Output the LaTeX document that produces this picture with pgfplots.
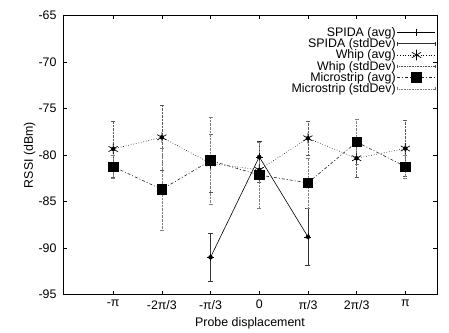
\documentclass[border=0pt]{standalone}
\usepackage{pgfplots}
\pgfplotsset{compat=1.18}
\usepackage{fontspec}
\setmainfont{Liberation Sans}
\begin{document}
\begin{tikzpicture}[font=\fontsize{12.4bp}{14bp}\selectfont]
\begin{axis}[
  scale only axis,
  width=374bp, height=279bp,
  xmin=-1.03, xmax=6.65,
  ymin=-95, ymax=-65,
  xtick={0,1,2,3,4,5,6},
  xticklabels={-π,-2π/3,-π/3,0,π/3,2π/3,π},
  ytick={-95,-90,-85,-80,-75,-70,-65},
  /pgf/number format/assume math mode=true,
  tick align=inside,
  major tick length=4bp,
  tick style={black, line width=0.6bp},
  axis line style={line width=0.8bp},
  xlabel={Probe displacement},
  ylabel={RSSI (dBm)},
  xlabel style={at={(axis description cs:0.5,0)}, anchor=north, yshift=-19bp},
  ylabel style={at={(axis description cs:0,0.5)}, anchor=south, yshift=24bp},
  xticklabel style={yshift=-2bp},
  yticklabel style={xshift=-3bp},
  clip=false,
  legend cell align=right,
  legend plot pos=right,
  legend style={draw=none, fill=none, at={(rel axis cs:1,1)}, anchor=north east,
    xshift=-1bp, yshift=-10bp, inner sep=0pt, row sep=-2.2bp,
    nodes={inner sep=1.5bp}},
  legend image code/.code={\draw[mark repeat=2,mark phase=2,#1] plot coordinates {(0bp,0bp) (19bp,0bp) (38bp,0bp)};},
]
% SPIDA
\addplot[black, solid, line width=0.6bp, mark=+, mark size=3.5bp, mark options={solid}]
  coordinates {(2,-91.0) (3,-80.2) (4,-88.8)};
\addlegendentry{SPIDA (avg)}
\addlegendimage{legend image code/.code={
  \draw[black!80, line width=0.6bp] (0bp,0bp)--(38bp,0bp);
  \draw[black!80, line width=0.6bp] (0bp,-2bp)--(0bp,2bp);
  \draw[black!80, line width=0.6bp] (38bp,-2bp)--(38bp,2bp);}}
\addlegendentry{SPIDA (stdDev)}
\addplot[forget plot, only marks, mark=none,
  error bars/.cd, y dir=both, y explicit,
  error bar style={black!80, solid, line width=0.6bp},
  error mark options={black!80, solid, rotate=90, mark size=2.5bp, line width=0.6bp}]
  coordinates {(2,-91.0) +- (0,2.6) (3,-80.2) +- (0,1.7) (4,-88.8) +- (0,3.1)};
% Whip
\addplot[black, dotted, line width=0.6bp, mark=asterisk, mark size=5.3bp, mark options={solid, line width=0.7bp}]
  coordinates {(0,-79.35) (1,-78.1) (2,-80.9) (3,-81.6) (4,-78.2) (5,-80.35) (6,-79.3)};
\addlegendentry{Whip (avg)}
\addlegendimage{legend image code/.code={
  \draw[black!70, densely dotted, line width=0.6bp] (0bp,0bp)--(38bp,0bp);
  \draw[black!70, line width=0.5bp] (0bp,-1.5bp)--(0bp,1.5bp);
  \draw[black!70, line width=0.5bp] (38bp,-1.5bp)--(38bp,1.5bp);}}
\addlegendentry{Whip (stdDev)}
\addplot[forget plot, only marks, mark=none,
  error bars/.cd, y dir=both, y explicit,
  error bar style={black!65, densely dotted, line width=0.6bp},
  error mark options={black!65, solid, rotate=90, mark size=2bp, line width=0.5bp}]
  coordinates {(0,-79.35) +- (0,3.0) (1,-78.1) +- (0,3.5) (2,-80.9) +- (0,3.1) (3,-81.6) +- (0,1.3) (4,-78.2) +- (0,1.8) (5,-80.35) +- (0,2.0) (6,-79.3) +- (0,3.0)};
% Microstrip
\addplot[black!85, dash pattern=on 3bp off 2bp on 1bp off 2bp, line width=0.6bp, mark=square*, mark size=4.8bp, mark options={solid, fill=black, draw=black}]
  coordinates {(0,-81.25) (1,-83.7) (2,-80.6) (3,-82.15) (4,-83.0) (5,-78.6) (6,-81.25)};
\addlegendentry{Microstrip (avg)}
\addlegendimage{legend image code/.code={
  \draw[black!55, densely dotted, line width=0.6bp] (0bp,0bp)--(38bp,0bp);
  \draw[black!55, line width=0.5bp] (0bp,-1.5bp)--(0bp,1.5bp);
  \draw[black!55, line width=0.5bp] (38bp,-1.5bp)--(38bp,1.5bp);}}
\addlegendentry{Microstrip (stdDev)}
\addplot[forget plot, only marks, mark=none,
  error bars/.cd, y dir=both, y explicit,
  error bar style={black!50, densely dotted, line width=0.6bp},
  error mark options={black!50, solid, rotate=90, mark size=2bp, line width=0.5bp}]
  coordinates {(0,-81.25) +- (0,1.2) (1,-83.7) +- (0,4.4) (2,-80.6) +- (0,4.7) (3,-82.15) +- (0,3.55) (4,-83.0) +- (0,2.7) (5,-78.6) +- (0,2.4) (6,-81.25) +- (0,1.2)};
\end{axis}
\pgfresetboundingbox
\path ([shift={(-63bp,-38.5bp)}]current axis.south west) rectangle ([shift={(12bp,15.5bp)}]current axis.north east);
\end{tikzpicture}
\end{document}
